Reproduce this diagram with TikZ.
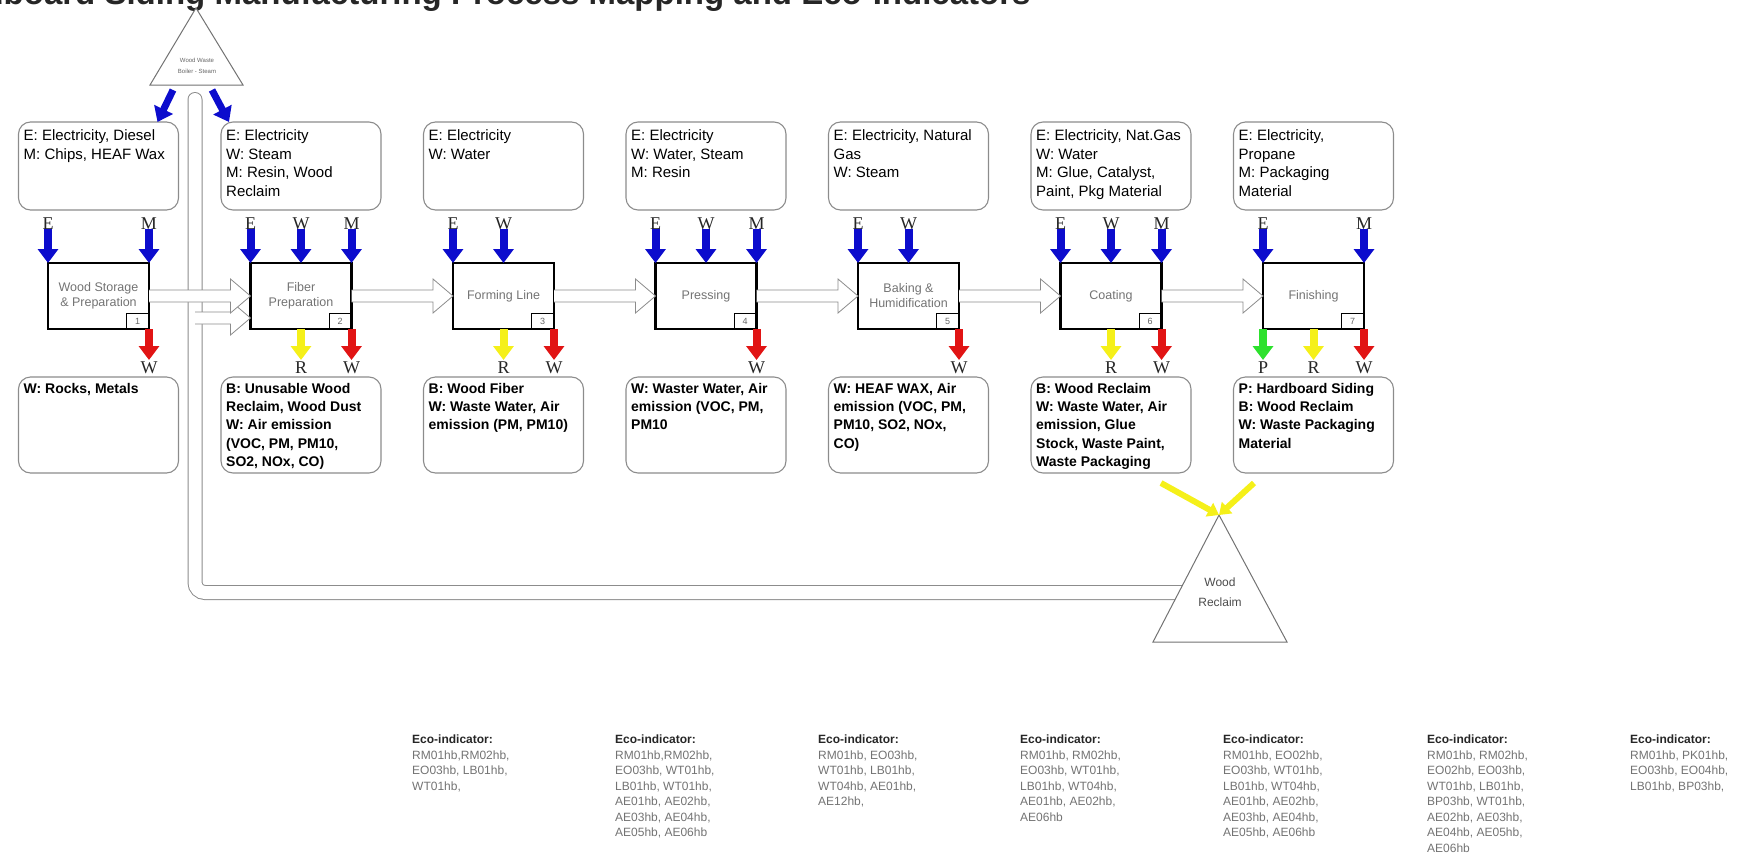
\documentclass[tikz,border=0pt]{standalone}
\usepackage{fontspec}
\setmainfont{Liberation Sans}
\newfontfamily\serifont{Liberation Serif}
\usetikzlibrary{arrows.meta, positioning, calc}

\definecolor{inblue}{RGB}{12,12,205}
\definecolor{outred}{RGB}{225,20,20}
\definecolor{recyellow}{RGB}{245,240,25}
\definecolor{prodgreen}{RGB}{45,225,45}

% hollow flow arrow between two points
\newcommand{\flow}[2]{%
  \filldraw[flowline] let \p1=#1, \p2=#2 in
    (\x1,\y1+6pt) -- (\x2-20pt,\y1+6pt) -- (\x2-20pt,\y1+17pt) -- (\x2,\y1)
    -- (\x2-20pt,\y1-17pt) -- (\x2-20pt,\y1-6pt) -- (\x1,\y1-6pt);}

\tikzset{
  process/.style={draw, line width=2.2pt, minimum width=101pt, minimum height=66pt,
    inner sep=0pt, outer sep=0pt, align=center, text=black!55,
    font=\fontsize{12.5}{15}\selectfont},
  numbox/.style={draw, line width=0.8pt, minimum width=22pt, minimum height=15pt,
    inner sep=0pt, anchor=south east, text=black!60, font=\fontsize{9}{9}\selectfont},
  info/.style={draw=black!45, line width=1.1pt, rounded corners=12pt,
    minimum width=160pt, inner sep=0pt, outer sep=0pt},
  intext/.style={anchor=north west, align=left, inner sep=0pt,
    font=\fontsize{15}{18.7}\selectfont},
  outtext/.style={intext, font=\bfseries\fontsize{14}{18.3}\selectfont},
  inarrow/.style={line width=8pt, -{Triangle[width=20pt,length=14pt]}, color=inblue},
  outarrow/.style={line width=8pt, -{Triangle[width=20pt,length=14pt]}, color=#1},
  recarrow/.style={line width=6pt, -{Triangle[width=15pt,length=11pt]}, color=recyellow},
  toplab/.style={at start, yshift=5pt, inner sep=0pt, text=black!85,
    font=\serifont\fontsize{18}{18}\selectfont},
  botlab/.style={at end, yshift=-8pt, inner sep=0pt, text=black!85,
    font=\serifont\fontsize{18}{18}\selectfont},
  flowline/.style={draw=black!45, fill=white, line width=0.8pt},
  pipe/.style={draw=black!45, line width=1pt, double=white, double distance=13pt,
    rounded corners=10pt, line cap=round},
  tri/.style={draw=black!55, fill=white, line width=1pt},
  eco/.style={anchor=north west, align=left, inner sep=0pt, text=black!55,
    font=\fontsize{12}{15.5}\selectfont}
}
\newcommand{\ecohead}{\textcolor{black!85}{\textbf{Eco-indicator:}}}

\begin{document}
\begin{tikzpicture}[x=1pt, y=-1pt]
  \useasboundingbox (0,0) rectangle (1745,859);

  \node (title) [anchor=base west, text=black!85, font=\bfseries\fontsize{33}{36}\selectfont]
    at (-75,5) {Hardboard Siding Manufacturing Process Mapping and Eco-Indicators};

  % process steps
  \node (p1) [process] at (98.5,296) {Wood Storage\\\& Preparation};
  \node (p2) [process, right=101.5pt of p1] {Fiber\\Preparation};
  \node (p3) [process, right=101.5pt of p2] {Forming Line};
  \node (p4) [process, right=101.5pt of p3] {Pressing};
  \node (p5) [process, right=101.5pt of p4] {Baking \&\\Humidification};
  \node (p6) [process, right=101.5pt of p5] {Coating};
  \node (p7) [process, right=101.5pt of p6] {Finishing};

  \node (n1) [numbox] at (p1.south east) {1};
  \node (n2) [numbox] at (p2.south east) {2};
  \node (n3) [numbox] at (p3.south east) {3};
  \node (n4) [numbox] at (p4.south east) {4};
  \node (n5) [numbox] at (p5.south east) {5};
  \node (n6) [numbox] at (p6.south east) {6};
  \node (n7) [numbox] at (p7.south east) {7};

  % recycling pipe from wood reclaim
  \coordinate (rclin) at (1185,592.5);
  \coordinate (pipetop) at (195,99.5);
  \coordinate (recbr) at (195,318);
  \draw[pipe] (rclin) -| (pipetop);
  \flow{(recbr)}{(p2.west |- recbr)}

  % main flow
  \flow{(p1.east)}{(p2.west)}
  \flow{(p2.east)}{(p3.west)}
  \flow{(p3.east)}{(p4.west)}
  \flow{(p4.east)}{(p5.west)}
  \flow{(p5.east)}{(p6.west)}
  \flow{(p6.east)}{(p7.west)}

  % inputs
  \node (in1) [info, minimum height=88pt, above=53pt of p1] {};
  \node (in2) [info, minimum height=88pt, above=53pt of p2] {};
  \node (in3) [info, minimum height=88pt, above=53pt of p3] {};
  \node (in4) [info, minimum height=88pt, above=53pt of p4] {};
  \node (in5) [info, minimum height=88pt, above=53pt of p5] {};
  \node (in6) [info, minimum height=88pt, above=53pt of p6] {};
  \node (in7) [info, minimum height=88pt, above=53pt of p7] {};
  \node (in1t) [intext] at ([shift={(5pt,-7.5pt)}]in1.north west) {E: Electricity, Diesel\\M: Chips, HEAF Wax};
  \node (in2t) [intext] at ([shift={(5pt,-7.5pt)}]in2.north west) {E: Electricity\\W: Steam\\M: Resin, Wood\\Reclaim};
  \node (in3t) [intext] at ([shift={(5pt,-7.5pt)}]in3.north west) {E: Electricity\\W: Water};
  \node (in4t) [intext] at ([shift={(5pt,-7.5pt)}]in4.north west) {E: Electricity\\W: Water, Steam\\M: Resin};
  \node (in5t) [intext] at ([shift={(5pt,-7.5pt)}]in5.north west) {E: Electricity, Natural\\Gas\\W: Steam};
  \node (in6t) [intext] at ([shift={(5pt,-7.5pt)}]in6.north west) {E: Electricity, Nat.Gas\\W: Water\\M: Glue, Catalyst,\\Paint, Pkg Material};
  \node (in7t) [intext] at ([shift={(5pt,-7.5pt)}]in7.north west) {E: Electricity,\\Propane\\M: Packaging\\Material};

  % outputs
  \node (out1) [info, minimum height=96pt, below=48pt of p1] {};
  \node (out2) [info, minimum height=96pt, below=48pt of p2] {};
  \node (out3) [info, minimum height=96pt, below=48pt of p3] {};
  \node (out4) [info, minimum height=96pt, below=48pt of p4] {};
  \node (out5) [info, minimum height=96pt, below=48pt of p5] {};
  \node (out6) [info, minimum height=96pt, below=48pt of p6] {};
  \node (out7) [info, minimum height=96pt, below=48pt of p7] {};
  \node (out1t) [outtext] at ([shift={(5pt,-6pt)}]out1.north west) {W: Rocks, Metals};
  \node (out2t) [outtext] at ([shift={(5pt,-6pt)}]out2.north west) {B: Unusable Wood\\Reclaim, Wood Dust\\W: Air emission\\(VOC, PM, PM10,\\SO2, NOx, CO)};
  \node (out3t) [outtext] at ([shift={(5pt,-6pt)}]out3.north west) {B: Wood Fiber\\W: Waste Water, Air\\emission (PM, PM10)};
  \node (out4t) [outtext] at ([shift={(5pt,-6pt)}]out4.north west) {W: Waster Water, Air\\emission (VOC, PM,\\PM10};
  \node (out5t) [outtext] at ([shift={(5pt,-6pt)}]out5.north west) {W: HEAF WAX, Air\\emission (VOC, PM,\\PM10, SO2, NOx,\\CO)};
  \node (out6t) [outtext] at ([shift={(5pt,-6pt)}]out6.north west) {B: Wood Reclaim\\W: Waste Water, Air\\emission, Glue\\Stock, Waste Paint,\\Waste Packaging};
  \node (out7t) [outtext] at ([shift={(5pt,-6pt)}]out7.north west) {P: Hardboard Siding\\B: Wood Reclaim\\W: Waste Packaging\\Material};

  % wood waste boiler
  \coordinate (wtop) at (196,8);
  \coordinate (wl) at (150,85);
  \coordinate (wr) at (243,85);
  \filldraw[tri] (wtop) -- (wr) -- (wl) -- cycle;
  \node (waste) at (197,66) [align=center, text=black!60, font=\fontsize{6}{11}\selectfont] {Wood Waste\\Boiler - Steam};
  \coordinate (wsl) at (173,90);
  \coordinate (wsr) at (212,90);
  \path[inarrow, line width=7pt]
    (wsl) edge ([xshift=-21pt]in1.north east)
    (wsr) edge ([xshift=8pt]in2.north west);

  % wood reclaim
  \coordinate (rtop) at (1219,515);
  \coordinate (rl) at (1153,642);
  \coordinate (rr) at (1287,642);
  \filldraw[tri] (rtop) -- (rr) -- (rl) -- cycle;
  \node (reclaim) at (1220,592) [align=center, text=black!70, font=\fontsize{12}{20}\selectfont] {Wood\\Reclaim};
  \coordinate (rc6) at (1161,483);
  \coordinate (rc7) at (1254,483);
  \path[recarrow] (rc6) edge (rtop) (rc7) edge (rtop);

  % energy, water, material in
  \path[inarrow]
    ([yshift=34pt]p1.north west) edge node[toplab]{E} (p1.north west)
    ([yshift=34pt]p1.north east) edge node[toplab]{M} (p1.north east)
    ([yshift=34pt]p2.north west) edge node[toplab]{E} (p2.north west)
    ([yshift=34pt]p2.north) edge node[toplab]{W} (p2.north)
    ([yshift=34pt]p2.north east) edge node[toplab]{M} (p2.north east)
    ([yshift=34pt]p3.north west) edge node[toplab]{E} (p3.north west)
    ([yshift=34pt]p3.north) edge node[toplab]{W} (p3.north)
    ([yshift=34pt]p4.north west) edge node[toplab]{E} (p4.north west)
    ([yshift=34pt]p4.north) edge node[toplab]{W} (p4.north)
    ([yshift=34pt]p4.north east) edge node[toplab]{M} (p4.north east)
    ([yshift=34pt]p5.north west) edge node[toplab]{E} (p5.north west)
    ([yshift=34pt]p5.north) edge node[toplab]{W} (p5.north)
    ([yshift=34pt]p6.north west) edge node[toplab]{E} (p6.north west)
    ([yshift=34pt]p6.north) edge node[toplab]{W} (p6.north)
    ([yshift=34pt]p6.north east) edge node[toplab]{M} (p6.north east)
    ([yshift=34pt]p7.north west) edge node[toplab]{E} (p7.north west)
    ([yshift=34pt]p7.north east) edge node[toplab]{M} (p7.north east);

  % waste, reclaim, product out
  \path[outarrow=outred]
    (p1.south east) edge node[botlab]{W} ([yshift=-31pt]p1.south east)
    (p2.south east) edge node[botlab]{W} ([yshift=-31pt]p2.south east)
    (p3.south east) edge node[botlab]{W} ([yshift=-31pt]p3.south east)
    (p4.south east) edge node[botlab]{W} ([yshift=-31pt]p4.south east)
    (p5.south east) edge node[botlab]{W} ([yshift=-31pt]p5.south east)
    (p6.south east) edge node[botlab]{W} ([yshift=-31pt]p6.south east)
    (p7.south east) edge node[botlab]{W} ([yshift=-31pt]p7.south east);
  \path[outarrow=recyellow]
    (p2.south) edge node[botlab]{R} ([yshift=-31pt]p2.south)
    (p3.south) edge node[botlab]{R} ([yshift=-31pt]p3.south)
    (p6.south) edge node[botlab]{R} ([yshift=-31pt]p6.south)
    (p7.south) edge node[botlab]{R} ([yshift=-31pt]p7.south);
  \path[outarrow=prodgreen]
    (p7.south west) edge node[botlab]{P} ([yshift=-31pt]p7.south west);

  % eco-indicators
  \node (eco1) [eco] at (412,735) {\ecohead\\RM01hb,RM02hb,\\EO03hb, LB01hb,\\WT01hb,};
  \node (eco2) [eco] at (615,735) {\ecohead\\RM01hb,RM02hb,\\EO03hb, WT01hb,\\LB01hb, WT01hb,\\AE01hb, AE02hb,\\AE03hb, AE04hb,\\AE05hb, AE06hb};
  \node (eco3) [eco] at (818,735) {\ecohead\\RM01hb, EO03hb,\\WT01hb, LB01hb,\\WT04hb, AE01hb,\\AE12hb,};
  \node (eco4) [eco] at (1020,735) {\ecohead\\RM01hb, RM02hb,\\EO03hb, WT01hb,\\LB01hb, WT04hb,\\AE01hb, AE02hb,\\AE06hb};
  \node (eco5) [eco] at (1223,735) {\ecohead\\RM01hb, EO02hb,\\EO03hb, WT01hb,\\LB01hb, WT04hb,\\AE01hb, AE02hb,\\AE03hb, AE04hb,\\AE05hb, AE06hb};
  \node (eco6) [eco] at (1427,735) {\ecohead\\RM01hb, RM02hb,\\EO02hb, EO03hb,\\WT01hb, LB01hb,\\BP03hb, WT01hb,\\AE02hb, AE03hb,\\AE04hb, AE05hb,\\AE06hb};
  \node (eco7) [eco] at (1630,735) {\ecohead\\RM01hb, PK01hb,\\EO03hb, EO04hb,\\LB01hb, BP03hb,};
\end{tikzpicture}
\end{document}
